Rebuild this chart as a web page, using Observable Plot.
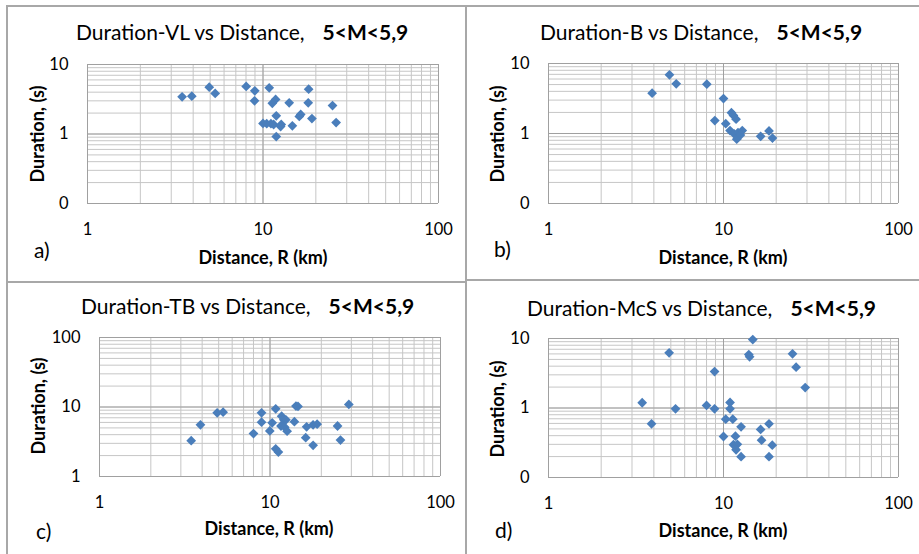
<!DOCTYPE html>
<html>
<head>
<meta charset="utf-8">
<script src="https://cdn.jsdelivr.net/npm/d3@7"></script>
<script src="https://cdn.jsdelivr.net/npm/@observablehq/plot@0.6"></script>
<style>
  html, body { margin: 0; padding: 0; background: #fff; }
  #root { position: relative; width: 919px; height: 554px; overflow: hidden; font-family: Lato, "Open Sans", sans-serif; color: #000; }
  .abs { position: absolute; white-space: nowrap; }
  .line { position: absolute; background: #a8a8a8; }
  .title { font-size: 21px; line-height: 21px; }
  .title b { font-weight: 700; margin-left: 18px; }
  .xt { font-size: 18px; font-weight: 700; line-height: 18px; transform: translate(-50%, -50%); }
  .yt { font-size: 18px; font-weight: 700; line-height: 18px; transform: translate(-50%, -50%) rotate(-90deg); }
  .lab { font-size: 21px; line-height: 21px; transform: translate(0, -50%); }
  .plot { position: absolute; }
</style>
</head>
<body>
<div id="root"></div>
<script>
// ---- Data ----
const vlDistance = [3.46, 3.93, 4.94, 5.34, 8.02, 8.98, 8.95, 10.85, 18.2, 11.8, 11.3, 14.1, 18.1, 24.9, 11.9, 16.4, 16.1, 19.0, 26.1, 10.0, 10.5, 11.1, 11.5, 12.7, 12.6, 14.7, 11.9];
const vlDuration = [3.43, 3.50, 4.71, 3.83, 4.83, 4.18, 3.0, 4.62, 4.41, 3.14, 2.77, 2.81, 2.81, 2.57, 1.83, 1.91, 1.79, 1.67, 1.46, 1.42, 1.41, 1.41, 1.37, 1.37, 1.28, 1.31, 0.92];

const bDistance = [3.91, 4.91, 5.37, 8.03, 10.0, 11.1, 11.4, 11.8, 8.92, 10.3, 10.9, 11.5, 12.1, 12.8, 11.9, 12.5, 16.3, 18.2, 19.05];
const bDuration = [3.76, 6.9, 5.13, 5.06, 3.16, 1.98, 1.81, 1.6, 1.53, 1.38, 1.10, 0.99, 1.03, 1.10, 0.83, 0.95, 0.91, 1.09, 0.86];

const tbDistance = [3.45, 3.91, 4.90, 5.31, 8.0, 8.92, 8.92, 9.97, 10.3, 10.8, 10.8, 11.2, 11.7, 12.05, 12.4, 11.6, 12.2, 12.6, 13.9, 14.2, 14.6, 16.4, 16.2, 17.9, 18.9, 17.9, 24.9, 25.9, 29.0];
const tbDuration = [3.27, 5.54, 8.25, 8.42, 4.15, 8.25, 6.04, 4.52, 5.93, 9.42, 2.5, 2.25, 7.37, 6.55, 6.55, 5.33, 5.12, 4.48, 6.14, 10.3, 10.2, 5.19, 3.62, 5.54, 5.66, 2.81, 5.33, 3.35, 10.9];

const mcsDistance = [14.7, 4.89, 13.95, 14.1, 24.8, 26.0, 8.89, 29.3, 3.43, 5.32, 8.0, 8.89, 10.9, 10.9, 3.88, 10.3, 11.3, 12.6, 18.2, 16.3, 10.0, 11.7, 16.5, 19.0, 11.4, 12.0, 11.8, 12.6, 18.2];
const mcsDuration = [9.67, 6.23, 5.88, 5.46, 6.03, 3.86, 3.35, 1.97, 1.19, 0.974, 1.087, 0.974, 1.2, 0.974, 0.593, 0.69, 0.69, 0.536, 0.593, 0.491, 0.389, 0.393, 0.344, 0.292, 0.296, 0.30, 0.25, 0.199, 0.199];

// ---- Ticks / gridlines / labels ----
const xDomain = [1, 100];
const xMajor = [1, 10, 100];
const xMajorLabels = ["1", "10", "100"];
const xMinor = [1, 2, 3, 4, 5, 6, 7, 8, 9, 10, 20, 30, 40, 50, 60, 70, 80, 90, 100];

const yDomainLow = [0.1, 10];
const yMajorLow = [0.1, 1, 10];
const yMajorLowLabels = ["0", "1", "10"];
const yMinorLow = [0.1, 0.2, 0.3, 0.4, 0.5, 0.6, 0.7, 0.8, 0.9, 1, 2, 3, 4, 5, 6, 7, 8, 9, 10];

const yDomainHigh = [1, 100];
const yMajorHigh = [1, 10, 100];
const yMajorHighLabels = ["1", "10", "100"];
const yMinorHigh = [1, 2, 3, 4, 5, 6, 7, 8, 9, 10, 20, 30, 40, 50, 60, 70, 80, 90, 100];

const titles = ["Duration-VL vs Distance,", "Duration-B vs Distance,", "Duration-TB vs Distance,", "Duration-McS vs Distance,"];
const titleTag = "5<M<5,9";
const panelLetters = ["a)", "b)", "c)", "d)"];
const xTitle = "Distance, R (km)";
const yTitle = "Duration, (s)";

// ---- Layout ----
const root = document.getElementById("root");
const M = {l: 45, r: 20, t: 12, b: 35};

function addLine(x, y, w, h) {
  const d = document.createElement("div");
  d.className = "line";
  Object.assign(d.style, {left: x + "px", top: y + "px", width: w + "px", height: h + "px"});
  root.appendChild(d);
}
function addText(cls, html, x, y) {
  const d = document.createElement("div");
  d.className = "abs " + cls;
  d.innerHTML = html;
  d.style.left = x + "px";
  d.style.top = y + "px";
  root.appendChild(d);
  return d;
}
function esc(s) { return s.replace(/&/g, "&amp;").replace(/</g, "&lt;").replace(/>/g, "&gt;"); }

function panel(cfg) {
  const data = cfg.xs.map((x, i) => ({x, y: cfg.ys[i]}));
  const chart = Plot.plot({
    width: cfg.w + M.l + M.r,
    height: cfg.h + M.t + M.b,
    marginLeft: M.l, marginRight: M.r, marginTop: M.t, marginBottom: M.b,
    x: {type: "log", domain: xDomain},
    y: {type: "log", domain: cfg.yDomain},
    style: {fontFamily: "Lato, 'Open Sans', sans-serif", fontSize: "16.5px", color: "#000", background: "transparent", overflow: "visible"},
    marks: [
      Plot.ruleX(xMinor, {stroke: "#c6c6c6", strokeWidth: 1}),
      Plot.ruleY(cfg.yMinor, {stroke: "#c6c6c6", strokeWidth: 1}),
      Plot.ruleX(xMajor, {stroke: "#a0a0a0", strokeWidth: 1}),
      Plot.ruleY(cfg.yMajor, {stroke: "#a0a0a0", strokeWidth: 1}),
      Plot.axisX({ticks: xMajor, tickSize: 0, tickPadding: 20, tickFormat: (d) => xMajorLabels[xMajor.indexOf(d)], label: null, fill: "#000"}),
      Plot.axisY({ticks: cfg.yMajor, tickSize: 0, tickPadding: 19, tickFormat: (d) => cfg.yLabels[cfg.yMajor.indexOf(d)], label: null, fill: "#000"}),
      Plot.dot(data, {x: "x", y: "y", symbol: "diamond2", r: 4.4, fill: "#4a7ebb", stroke: "none"})
    ]
  });
  chart.classList.add("plot");
  chart.style.left = (cfg.left - M.l) + "px";
  chart.style.top = (cfg.top - M.t) + "px";
  root.appendChild(chart);

  addText("title", esc(cfg.title) + "<b>" + esc(titleTag) + "</b>", cfg.titleX, cfg.titleY - 10.5);
  addText("xt", esc(xTitle), cfg.xtX, cfg.xtY);
  addText("yt", esc(yTitle), cfg.ytX, cfg.ytY);
  addText("lab", esc(cfg.letter), cfg.labX, cfg.labY);
}

// panel borders
addLine(7, 5, 912, 2);
addLine(6, 5, 2, 549);
addLine(465, 5, 2, 549);
addLine(6, 281, 460, 2);
addLine(465, 279, 454, 2);

panel({xs: vlDistance, ys: vlDuration, yDomain: yDomainLow, yMajor: yMajorLow, yMinor: yMinorLow, yLabels: yMajorLowLabels,
  left: 87, top: 64, w: 351, h: 139, title: titles[0], letter: panelLetters[0],
  titleX: 76, titleY: 31, xtX: 263, xtY: 257, ytX: 37, ytY: 134, labX: 34, labY: 249});
panel({xs: bDistance, ys: bDuration, yDomain: yDomainLow, yMajor: yMajorLow, yMinor: yMinorLow, yLabels: yMajorLowLabels,
  left: 548, top: 63, w: 350, h: 140, title: titles[1], letter: panelLetters[1],
  titleX: 540, titleY: 31, xtX: 723, xtY: 257, ytX: 497, ytY: 134, labX: 494, labY: 248});
panel({xs: tbDistance, ys: tbDuration, yDomain: yDomainHigh, yMajor: yMajorHigh, yMinor: yMinorHigh, yLabels: yMajorHighLabels,
  left: 99, top: 337, w: 341, h: 139, title: titles[2], letter: panelLetters[2],
  titleX: 81, titleY: 305, xtX: 269, xtY: 528, ytX: 38, ytY: 406, labX: 36, labY: 530});
panel({xs: mcsDistance, ys: mcsDuration, yDomain: yDomainLow, yMajor: yMajorLow, yMinor: yMinorLow, yLabels: yMajorLowLabels,
  left: 548, top: 338, w: 350, h: 139, title: titles[3], letter: panelLetters[3],
  titleX: 527, titleY: 307, xtX: 723, xtY: 530, ytX: 497, ytY: 409, labX: 495, labY: 529});
</script>
</body>
</html>
